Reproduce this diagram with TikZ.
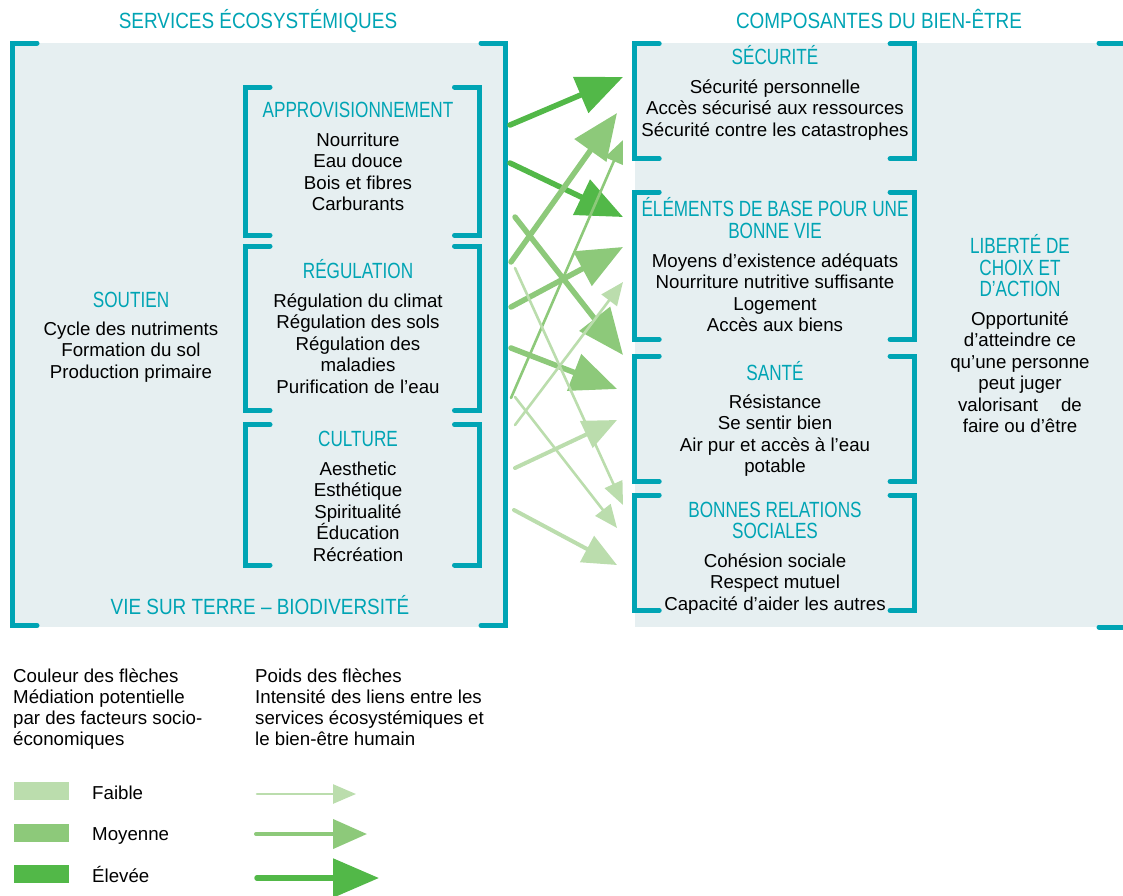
\documentclass[tikz,border=0pt]{standalone}
\usepackage{fontspec}
\setmainfont{Liberation Sans}
\newfontfamily\hdrfont{Liberation Sans}[FakeStretch=0.86]
\newfontfamily\ttlfont{Liberation Sans}[FakeStretch=0.78]
\usetikzlibrary{arrows.meta}
\definecolor{msTeal}{RGB}{0,164,180}
\definecolor{msBg}{RGB}{230,239,241}
\definecolor{gLow}{RGB}{187,221,173}
\definecolor{gMed}{RGB}{141,201,122}
\definecolor{gHigh}{RGB}{82,184,72}
\newcommand\brpair[4]{%
  \draw[brk] (#1+24.5,#3) -- (#1,#3) -- (#1,#4) -- (#1+24.5,#4);
  \draw[brk] (#2-24.5,#3) -- (#2,#3) -- (#2,#4) -- (#2-24.5,#4);}
\tikzset{
  brk/.style={draw=msTeal, line width=5pt, line cap=round, line join=miter},
  body/.style={font=\fontsize{18.7}{21.5}\selectfont, text=black, inner sep=0pt, anchor=base},
  ttl/.style={font=\ttlfont\fontsize{22}{21.5}\selectfont, text=msTeal, inner sep=0pt, anchor=base},
  hdr/.style={font=\hdrfont\fontsize{22}{22}\selectfont, text=msTeal, inner sep=0pt, anchor=base},
  lgd/.style={body, anchor=base west},
  wThin/.style={line width=2.6pt, line cap=round, -{Triangle[length=23pt,width=19pt]}},
  wMid/.style={line width=4pt, line cap=round, -{Triangle[length=34pt,width=29pt]}},
  wThick/.style={line width=5.5pt, line cap=round, -{Triangle[length=46pt,width=38pt]}},
  cLow/.style={draw=gLow},
  cMid/.style={draw=gMed},
  cHigh/.style={draw=gHigh},
}
\begin{document}
\begin{tikzpicture}[x=1pt,y=-1pt]
\useasboundingbox (0,0) rectangle (1123,895);
% backgrounds
\fill[msBg] (12.5,43) rectangle (505.5,627);
\fill[msBg] (635,43) rectangle (1123,627);
% outer brackets
\brpair{12.5}{505.5}{43}{625.5}
\draw[brk] (1099,43) -- (1128,43) -- (1128,627) -- (1099,627);
% inner left brackets
\brpair{245.5}{479}{87}{235.3}
\brpair{245.5}{479}{246}{410.5}
\brpair{245.5}{479}{424.7}{565}
% inner right brackets
\brpair{634.7}{914.6}{43.8}{158.7}
\brpair{634.7}{914.6}{192}{339.5}
\brpair{634.7}{914.6}{356}{481.5}
\brpair{634.7}{914.6}{495}{610.5}
% headers
\node[hdr] (hdrL) at (258,28) {SERVICES ÉCOSYSTÉMIQUES};
\node[hdr] (hdrR) at (879,28) {COMPOSANTES DU BIEN-ÊTRE};
\node[hdr] (vie) at (260,614) {VIE SUR TERRE – BIODIVERSITÉ};
% left texts
\node[ttl] (soutien) at (131,307.5) {SOUTIEN};
\foreach \t [count=\i from 0] in {Cycle des nutriments,Formation du sol,Production primaire}
  \node[body, name=sou\i] at (131,335+21.5*\i) {\t};
\node[ttl] (appro) at (358,117.5) {APPROVISIONNEMENT};
\foreach \t [count=\i from 0] in {Nourriture,Eau douce,Bois et fibres,Carburants}
  \node[body, name=app\i] at (358,146+21.5*\i) {\t};
\node[ttl] (regul) at (358,278.5) {RÉGULATION};
\foreach \t [count=\i from 0] in {Régulation du climat,Régulation des sols,Régulation des,maladies,Purification de l’eau}
  \node[body, name=reg\i] at (358,307+21.5*\i) {\t};
\node[ttl] (cult) at (358,446.5) {CULTURE};
\foreach \t [count=\i from 0] in {Aesthetic,Esthétique,Spiritualité,Éducation,Récréation}
  \node[body, name=cul\i] at (358,475+21.5*\i) {\t};
% right texts
\node[ttl] (secu) at (775,64) {SÉCURITÉ};
\foreach \t [count=\i from 0] in {Sécurité personnelle,Accès sécurisé aux ressources,Sécurité contre les catastrophes}
  \node[body, name=sec\i] at (775,93+21.5*\i) {\t};
\node[ttl] (elem) at (775,216.5) {ÉLÉMENTS DE BASE POUR UNE};
\node[ttl] (elemb) at (775,238) {BONNE VIE};
\foreach \t [count=\i from 0] in {Moyens d’existence adéquats,Nourriture nutritive suffisante,Logement,Accès aux biens}
  \node[body, name=ele\i] at (775,267+21.5*\i) {\t};
\node[ttl] (sante) at (775,380) {SANTÉ};
\foreach \t [count=\i from 0] in {Résistance,Se sentir bien,Air pur et accès à l’eau,potable}
  \node[body, name=san\i] at (775,408+21.5*\i) {\t};
\node[ttl] (bonnes) at (775,517) {BONNES RELATIONS};
\node[ttl] (bonnesb) at (775,538) {SOCIALES};
\foreach \t [count=\i from 0] in {Cohésion sociale,Respect mutuel,Capacité d’aider les autres}
  \node[body, name=bon\i] at (775,567+21.5*\i) {\t};
\foreach \t [count=\i from 0] in {LIBERTÉ DE,CHOIX ET,D’ACTION}
  \node[ttl, name=lib\i] at (1020,253.5+21.5*\i) {\t};
\foreach \t [count=\i from 0] in {Opportunité,d’atteindre ce,qu’une personne,peut juger,valorisant\hspace{23pt}de,faire ou d’être}
  \node[body, name=opp\i] at (1020,325+21.5*\i) {\t};
% arrows: tails and tips
\coordinate (a1) at (510,125);  \coordinate (b1) at (623,77);
\coordinate (a2) at (510,163);  \coordinate (b2) at (623,217);
\coordinate (a3) at (511,262);  \coordinate (b3) at (617,113);
\coordinate (a4) at (511,398);  \coordinate (b4) at (623,140);
\coordinate (a5) at (515,217);  \coordinate (b5) at (623,355);
\coordinate (a6) at (511,307);  \coordinate (b6) at (623,247);
\coordinate (a7) at (515,425);  \coordinate (b7) at (623,282);
\coordinate (a8) at (515,268);  \coordinate (b8) at (623,505);
\coordinate (a9) at (511,348);  \coordinate (b9) at (617,389);
\coordinate (a10) at (515,397); \coordinate (b10) at (617,528);
\coordinate (a11) at (515,468); \coordinate (b11) at (617,420);
\coordinate (a12) at (514,510); \coordinate (b12) at (617,565);
\draw[cHigh,wThick] (a1) -- (b1);
\draw[cHigh,wThick] (a2) -- (b2);
\draw[cMid,wThick] (a3) -- (b3);
\draw[cMid,wThick] (a5) -- (b5);
\draw[cMid,wThick] (a6) -- (b6);
\draw[cMid,wThick] (a9) -- (b9);
\draw[cMid,wThin] (a4) -- (b4);
\draw[cLow,wThin] (a7) -- (b7);
\draw[cLow,wThin] (a8) -- (b8);
\draw[cLow,wThin] (a10) -- (b10);
\draw[cLow,wMid] (a11) -- (b11);
\draw[cLow,wMid] (a12) -- (b12);
% legend
\foreach \t [count=\i from 0] in {Couleur des flèches,Médiation potentielle,par des facteurs socio-,économiques}
  \node[lgd, name=lgc\i] at (13,682+21*\i) {\t};
\foreach \t [count=\i from 0] in {Poids des flèches,Intensité des liens entre les,services écosystémiques et,le bien-être humain}
  \node[lgd, name=lgp\i] at (255,682+21*\i) {\t};
\fill[gLow] (14,782) rectangle (69,800);
\fill[gMed] (14,824) rectangle (69,842);
\fill[gHigh] (14,865) rectangle (69,883);
\node[lgd] (lf) at (92,799) {Faible};
\node[lgd] (lm) at (92,840) {Moyenne};
\node[lgd] (le) at (92,882) {Élevée};
\coordinate (la1) at (257,794); \coordinate (lb1) at (356,794);
\coordinate (la2) at (256,834); \coordinate (lb2) at (367,834);
\coordinate (la3) at (257,878); \coordinate (lb3) at (379,878);
\draw[cLow,wThin] (la1) -- (lb1);
\draw[cMid,wMid] (la2) -- (lb2);
\draw[cHigh,wThick] (la3) -- (lb3);
\end{tikzpicture}
\end{document}
